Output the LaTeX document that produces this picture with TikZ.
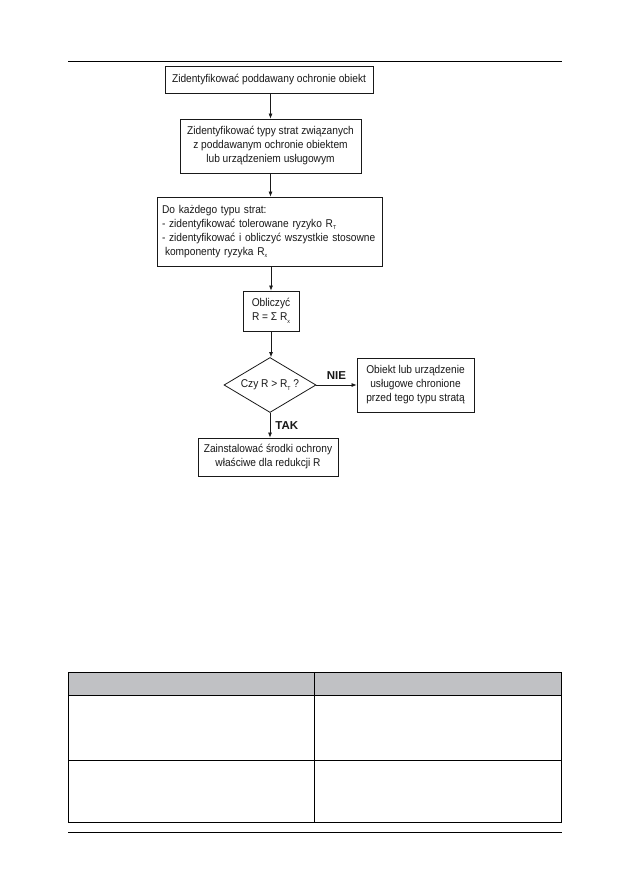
\documentclass[tikz,border=0pt]{standalone}
\usepackage{fontspec}
\setmainfont{Liberation Sans}[FakeStretch=0.9]
\newfontfamily\lblfont{Liberation Sans}
\usetikzlibrary{shapes.geometric,arrows.meta}
\newcommand\lowsub[1]{\raisebox{-0.4ex}{\fontsize{5.8}{6}\selectfont #1}}
\definecolor{ink}{RGB}{25,25,25}
\definecolor{hdr}{RGB}{192,193,196}
\tikzset{
  box/.style={draw=ink, line width=0.8pt, rectangle, inner sep=2pt, align=center,
    font=\fontsize{11.3}{14}\selectfont, text=ink},
  arr/.style={draw=ink, line width=0.7pt, -{Latex[length=5pt,width=4pt]}},
  lbl/.style={font=\lblfont\fontsize{11.5}{12}\selectfont\bfseries, text=ink, inner sep=0pt},
  rule/.style={line width=0.8pt, black},
}
\begin{document}
\begin{tikzpicture}[x=1pt,y=-1pt]
\useasboundingbox (0,0) rectangle (629,893);
\fill[white] (0,0) rectangle (629,893);
% page rules
\draw[rule] (68,61) -- (562,61);
\draw[rule] (68,832) -- (562,832);
% flowchart
\node[box, minimum width=208pt, minimum height=27pt] (b1) at (269,80)
  {Zidentyfikować poddawany ochronie obiekt};
\node[box, minimum width=181pt, minimum height=54pt] (b2) at (270.5,146)
  {Zidentyfikować typy strat związanych\\z poddawanym ochronie obiektem\\lub urządzeniem usługowym};
\node[box, minimum width=225pt, minimum height=69pt, align=left, text width=215pt] (b3) at (269.5,231.5)
  {Do każdego typu strat:\\- zidentyfikować tolerowane ryzyko R\lowsub{T}\\- zidentyfikować i obliczyć wszystkie stosowne\\\hspace*{3pt}komponenty ryzyka R\lowsub{x}};
\node[box, minimum width=56pt, minimum height=40pt] (b4) at (271,311)
  {Obliczyć\\R = Σ R\lowsub{x}};
\node[draw=ink, line width=0.8pt, diamond, aspect=1.67, inner sep=0pt,
  minimum width=92pt, minimum height=55pt, font=\fontsize{11.3}{14}\selectfont, text=ink] (d) at (270,385)
  {Czy R > R\lowsub{T} ?};
\node[box, minimum width=117pt, minimum height=54pt] (nie) at (415.5,385)
  {Obiekt lub urządzenie\\usługowe chronione\\przed tego typu stratą};
\node[box, minimum width=140pt, minimum height=38pt] (fin) at (268,457)
  {Zainstalować środki ochrony\\właściwe dla redukcji R};
\draw[arr] (b1.south -| b2.north) -- (b2.north);
\draw[arr] (b2.south) -- (b3.north -| b2.south);
\draw[arr] (b3.south -| b4.north) -- (b4.north);
\draw[arr] (b4.south) -- (d.north -| b4.south);
\draw[arr] (d.east) -- (nie.west) node[lbl, midway, above=5pt] (nielbl) {NIE};
\draw[arr] (d.south) -- (fin.north -| d.south) node[lbl, midway, right=5pt] (taklbl) {TAK};
% table
\fill[hdr] (68,672) rectangle (561,695);
\draw[line width=0.9pt, black] (68,672) rectangle (561,822);
\draw[line width=0.9pt, black] (68,695) -- (561,695);
\draw[line width=0.9pt, black] (68,760) -- (561,760);
\draw[line width=0.9pt, black] (314,672) -- (314,822);
\end{tikzpicture}
\end{document}
